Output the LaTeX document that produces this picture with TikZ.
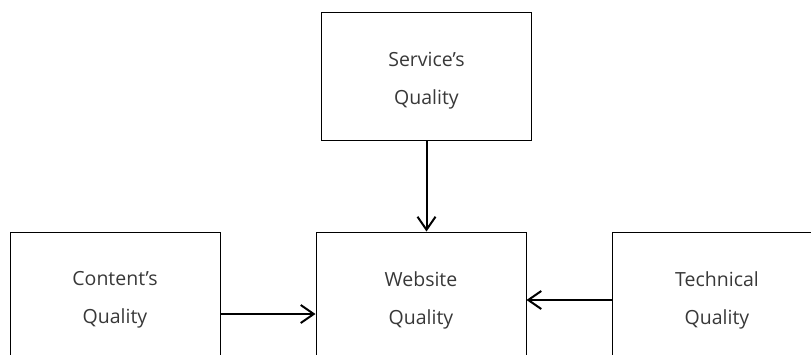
\documentclass[tikz,border=0pt]{standalone}
\usepackage{fontspec}
\newfontfamily\boxfont{Open Sans}
\usetikzlibrary{arrows.meta}
\tikzset{
  qualbox/.style={draw=black, line width=1pt, minimum width=210pt, minimum height=128pt,
    inner sep=0pt, align=center, font=\boxfont\fontsize{19.5}{38}\selectfont, text=black!78},
  boxtext/.style={align=center, inner sep=0pt, font=\boxfont\fontsize{19.5}{38}\selectfont,
    text=black!78, yshift=-4pt},
  link/.style={line width=2pt, -{Straight Barb[length=13pt,width=18pt,line width=2pt]}}
}
\begin{document}
\begin{tikzpicture}[x=1pt,y=-1pt]
  \useasboundingbox (0,0) rectangle (811,354);
  \clip (0,0) rectangle (811,354);
  % boxes
  \node[qualbox] (service) at (426.5,76.5) {};
  \node[qualbox] (content) at (115,296) {};
  \node[qualbox] (website) at (421,296) {};
  \node[qualbox] (technical) at (717,296) {};
  % labels, set a little below each box centre
  \node[boxtext] (serviceT) at (service.center) {Service’s\\Quality};
  \node[boxtext] (contentT) at (content.center) {Content’s\\Quality};
  \node[boxtext] (websiteT) at (website.center) {Website\\Quality};
  \node[boxtext] (technicalT) at (technical.center) {Technical\\Quality};
  % connectors
  \draw[link] (service.south) -- (website.north -| service.south);
  \draw[link] (content.east |- 0,314) -- (website.west |- 0,314);
  \draw[link] (technical.west |- 0,300) -- (website.east |- 0,300);
\end{tikzpicture}
\end{document}
